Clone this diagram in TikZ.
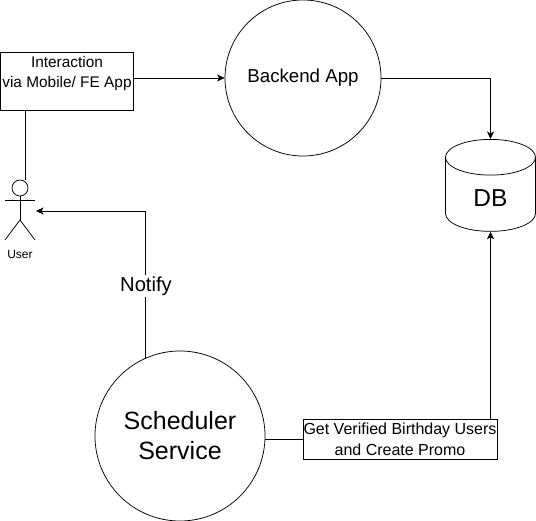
\documentclass[tikz,border=0pt]{standalone}
\usepackage{fontspec}
\setmainfont{Liberation Sans}
\usetikzlibrary{shapes.geometric,arrows.meta}
\begin{document}
\begin{tikzpicture}[x=1pt,y=-1pt,line width=0.75pt,
	circ/.style={draw,circle,inner sep=0pt,align=center},
	box/.style={draw,inner sep=0pt,align=center,fill=white},
	arr/.style={-{Stealth[length=7.5pt,width=7pt,inset=2pt]}}]
		\useasboundingbox (0,0) rectangle (536,521);

		%% top row
		\node[box,minimum width=133.5pt,minimum height=58pt,text depth=18pt,font=\fontsize{15.4}{20}\selectfont] at (67,81)(inter){Interaction\\via Mobile/ FE App};
		\node[circ,minimum size=156pt,font=\fontsize{18.7}{20}\selectfont] at (303,78)(back){\raisebox{-1pt}{Backend App}};

		%% db
		\node[draw,cylinder,shape border rotate=90,aspect=1.05,minimum width=90pt,minimum height=92pt,inner sep=0pt,font=\fontsize{24.5}{26}\selectfont] at (490.5,194.5)(db){\raisebox{-12pt}[0pt][0pt]{DB}};

		%% user
		\node[draw,circle,minimum size=16pt,inner sep=0pt] at (20,188)(head){};
		\coordinate (hip) at (20,220);
		\coordinate (usrin) at (36,211);
		\coordinate (wire) at (25,180);
		\draw (head.south)--(hip);
		\draw (5,200)--(35,200);
		\draw (5,240)--(hip)--(35,240);
		\node[font=\fontsize{12}{13}\selectfont] at (20,254)(user){User};

		%% scheduler
		\node[circ,minimum size=170pt,font=\fontsize{25}{30}\selectfont] at (180,436)(sched){\raisebox{-1pt}{Scheduler}\\\raisebox{-1pt}{Service}};
		\node[box,minimum width=194pt,minimum height=40pt,font=\fontsize{16}{21}\selectfont] at (400,439.5)(promo){Get Verified Birthday Users\\and Create Promo};

		%% links
		\draw[arr] (inter.east|-back)--(back);
		\draw (inter.south-|wire)--(wire);
		\draw[arr] (back.east)-|(db.north);
		\draw[arr] (sched.114)|-(usrin);
		\node[fill=white,inner sep=2pt,font=\fontsize{20.2}{22}\selectfont] at (146,286)(notify){Notify};
		\draw (sched.east|-promo)--(promo);
		\draw[arr] (promo.north-|db)--(db.south);
\end{tikzpicture}
\end{document}
